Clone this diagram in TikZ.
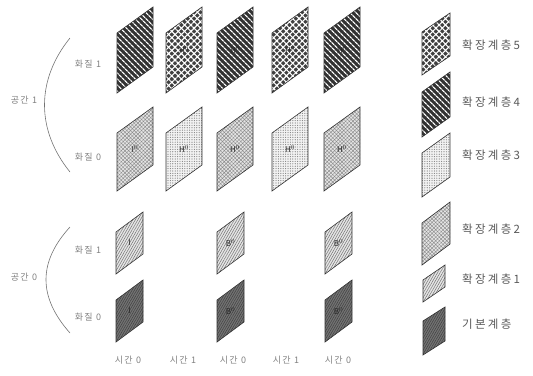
\documentclass[tikz,border=0pt]{standalone}
\usepackage{fontspec}
\setmainfont{Noto Sans CJK KR}
\usetikzlibrary{patterns.meta}
\newcommand\plane[8]{%
  \path[#7] (#2,#3+#5) -- (#2+#4,#3) -- (#2+#4,#3+#6) -- (#2,#3+#5+#6) -- cycle;
  \node[inlab] (#1) at (#2+#4/2,#3+#5/2+#6/2) {#8};
}
\tikzset{
  bd/.style={draw=black!80, line width=0.6pt},
  L5/.style={fill=black!75, postaction={pattern={Hatch[angle=45,distance=4.5pt,line width=1.1pt]}, pattern color=white}, postaction={bd}},
  L4/.style={fill=black!80, postaction={pattern={Lines[angle=-45,distance=4pt,line width=1.3pt]}, pattern color=white}, postaction={bd}},
  L3/.style={fill=black!5, postaction={pattern={Dots[distance=2.4pt,radius=0.6pt]}, pattern color=black!50}, postaction={bd}},
  L2/.style={fill=black!10, postaction={pattern={Hatch[angle=45,distance=2.6pt,line width=0.45pt]}, pattern color=black!45}, postaction={bd}},
  L1/.style={fill=black!10, postaction={pattern={Lines[angle=60,distance=2.2pt,line width=0.5pt]}, pattern color=black!55}, postaction={bd}},
  L0/.style={fill=black!55, postaction={pattern={Lines[angle=60,distance=2pt,line width=0.5pt]}, pattern color=black!75}, postaction={bd}},
  inlab/.style={font=\fontsize{8}{9}\selectfont, text=black!85, inner sep=0pt},
  axlab/.style={font=\fontsize{9}{10}\addfontfeatures{LetterSpace=15}\selectfont, text=black!50, inner sep=0pt},
  leglab/.style={font=\fontsize{11.5}{13}\addfontfeatures{LetterSpace=20}\selectfont, text=black!65, inner sep=0pt, anchor=west},
  brace/.style={draw=black!55, line width=0.6pt}
}
\begin{document}
\begin{tikzpicture}[x=1pt,y=-1pt]
\useasboundingbox (0,0) rectangle (533,375);
% spatial 1, quality 1
\plane{a1}{117}{7}{36}{26}{60}{L4}{I}
\plane{a2}{166}{7}{36}{26}{60}{L5}{H$^0$}
\plane{a3}{217}{7}{36}{26}{60}{L4}{H$^0$}
\plane{a4}{272}{7}{36}{26}{60}{L5}{H$^0$}
\plane{a5}{324}{7}{36}{26}{60}{L4}{H$^0$}
% spatial 1, quality 0
\plane{b1}{117}{107}{36}{26}{58}{L2}{I$^0$}
\plane{b2}{166}{107}{36}{26}{58}{L3}{H$^0$}
\plane{b3}{217}{107}{36}{26}{58}{L2}{H$^0$}
\plane{b4}{272}{107}{36}{26}{58}{L3}{H$^0$}
\plane{b5}{324}{107}{36}{26}{58}{L2}{H$^0$}
% spatial 0, quality 1
\plane{c1}{116}{212}{27}{20}{42}{L1}{I}
\plane{c3}{217}{212}{27}{20}{42}{L1}{B$^0$}
\plane{c5}{325}{212}{27}{20}{42}{L1}{B$^0$}
% spatial 0, quality 0
\plane{d1}{116}{280}{27}{20}{42}{L0}{I}
\plane{d3}{217}{280}{27}{20}{42}{L0}{B$^0$}
\plane{d5}{325}{280}{27}{20}{42}{L0}{B$^0$}
% legend
\plane{g5}{422}{13}{28}{19}{43}{L5}{}
\plane{g4}{422}{72}{28}{20}{45}{L4}{}
\plane{g3}{422}{133}{28}{20}{44}{L3}{}
\plane{g2}{422}{202}{28}{21}{42}{L2}{}
\plane{g1}{423}{265}{22}{15}{22}{L1}{}
\plane{g0}{423}{307}{22}{14}{34}{L0}{}
\node[leglab] (t5) at (462,45) {확장계층5};
\node[leglab] (t4) at (462,102) {확장계층4};
\node[leglab] (t3) at (462,155) {확장계층3};
\node[leglab] (t2) at (462,229) {확장계층2};
\node[leglab] (t1) at (462,279) {확장계층1};
\node[leglab] (t0) at (462,324) {기본계층};
% left labels
\node[axlab] (q11) at (88,64) {화질 1};
\node[axlab] (q10) at (88,157) {화질 0};
\node[axlab] (s1) at (24,100) {공간 1};
\node[axlab] (q01) at (88,250) {화질 1};
\node[axlab] (q00) at (88,317) {화질 0};
\node[axlab] (s0) at (24,277) {공간 0};
\coordinate (u1) at (70,38);
\coordinate (u2) at (70,172);
\coordinate (v1) at (70,227);
\coordinate (v2) at (70,333);
\draw[brace] (u1) .. controls (36,80) and (36,130) .. (u2);
\draw[brace] (v1) .. controls (38,262) and (38,297) .. (v2);
% bottom labels
\node[axlab] (h1) at (128,360) {시간 0};
\node[axlab] (h2) at (183,360) {시간 1};
\node[axlab] (h3) at (233,360) {시간 0};
\node[axlab] (h4) at (286,360) {시간 1};
\node[axlab] (h5) at (338,360) {시간 0};
\end{tikzpicture}
\end{document}
